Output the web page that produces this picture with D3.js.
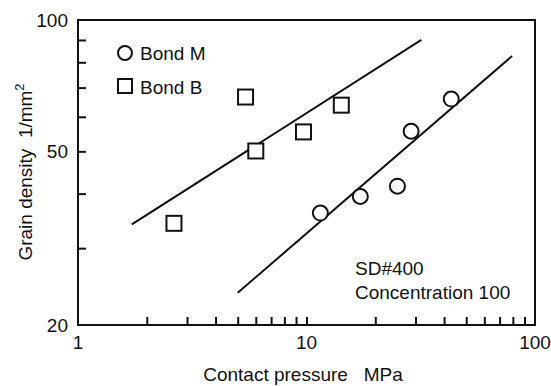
<!DOCTYPE html>
<html>
<head>
<meta charset="utf-8">
<script src="https://cdn.jsdelivr.net/npm/d3@7"></script>
<style>
  body { margin: 0; background: #fff; }
  text { font-family: "Liberation Sans", Arial, sans-serif; fill: #111; }
</style>
</head>
<body>
<script>
var w = 551;
var h = 386;

// data
var bondMPressure = [11.5, 17.2, 25.0, 28.7, 43.0];
var bondMDensity  = [36.1, 39.4, 41.6, 55.6, 65.9];
var bondBPressure = [2.63, 5.41, 6.0, 9.7, 14.2];
var bondBDensity  = [34.2, 66.6, 50.1, 55.4, 63.8];
// fitted lines (end points)
var lineBX = [1.72, 31.8];
var lineBY = [34.0, 90.0];
var lineMX = [5.0, 79.4];
var lineMY = [23.7, 82.7];

var xTickLabels = [1, 10, 100];
var yTickLabels = [20, 50, 100];
var xMinor = [2,3,4,5,6,7,8,9,20,30,40,50,60,70,80,90];
var yMinor = [30,40,60,70,80,90];

var svg = d3.select("body").append("svg")
            .attr("width", w)
            .attr("height", h);

var x = d3.scaleLog().domain([1, 100]).range([78, 535]);
var y = d3.scaleLog().domain([20, 100]).range([325, 20]);

// frame
svg.append("rect")
   .attr("x", x(1)).attr("y", y(100))
   .attr("width", x(100) - x(1)).attr("height", y(20) - y(100))
   .attr("fill", "none").attr("stroke", "#111").attr("stroke-width", 2);

// bottom axis, ticks pointing inward
var xAxis = svg.append("g")
   .attr("transform", "translate(0," + y(20) + ")")
   .call(d3.axisBottom(x).tickValues(xMinor.concat([10])).tickSize(-8).tickFormat(""));
xAxis.select(".domain").remove();
xAxis.selectAll("line").attr("stroke", "#111").attr("stroke-width", 2);

svg.selectAll(".xlab")
   .data(xTickLabels)
   .enter()
   .append("text")
   .attr("class", "xlab")
   .attr("x", function(d){ return x(d); })
   .attr("y", y(20) + 24)
   .attr("text-anchor", "middle")
   .attr("font-size", "19px")
   .text(function(d){ return d; });

// left axis
var yAxis = svg.append("g")
   .attr("transform", "translate(" + x(1) + ",0)")
   .call(d3.axisLeft(y).tickValues(yMinor.concat([50])).tickSize(-8).tickFormat(""));
yAxis.select(".domain").remove();
yAxis.selectAll("line").attr("stroke", "#111").attr("stroke-width", 2);

svg.selectAll(".ylab")
   .data(yTickLabels)
   .enter()
   .append("text")
   .attr("class", "ylab")
   .attr("x", x(1) - 10)
   .attr("y", function(d){ return y(d) + 7; })
   .attr("text-anchor", "end")
   .attr("font-size", "19px")
   .text(function(d){ return d; });

// axis titles
svg.append("text")
   .attr("x", 303).attr("y", 381)
   .attr("text-anchor", "middle")
   .attr("font-size", "19px")
   .style("white-space", "pre")
   .text("Contact pressure   MPa");

var yt = svg.append("text")
   .attr("transform", "translate(32,172) rotate(-90)")
   .attr("text-anchor", "middle")
   .attr("font-size", "19px")
   .style("white-space", "pre");
yt.append("tspan").text("Grain density  1/mm");
yt.append("tspan").attr("font-size", "13px").attr("dy", -8).text("2");

// fit lines
var line = d3.line()
   .x(function(d){ return x(d[0]); })
   .y(function(d){ return y(d[1]); });

svg.append("path")
   .datum(d3.zip(lineBX, lineBY))
   .attr("d", line)
   .attr("fill", "none").attr("stroke", "#111").attr("stroke-width", 2);
svg.append("path")
   .datum(d3.zip(lineMX, lineMY))
   .attr("d", line)
   .attr("fill", "none").attr("stroke", "#111").attr("stroke-width", 2);

// markers
svg.selectAll(".ptB")
   .data(d3.zip(bondBPressure, bondBDensity))
   .enter()
   .append("rect")
   .attr("class", "ptB")
   .attr("x", function(d){ return x(d[0]) - 7.5; })
   .attr("y", function(d){ return y(d[1]) - 7.5; })
   .attr("width", 15).attr("height", 15)
   .attr("fill", "#fff").attr("stroke", "#111").attr("stroke-width", 2);

svg.selectAll(".ptM")
   .data(d3.zip(bondMPressure, bondMDensity))
   .enter()
   .append("circle")
   .attr("class", "ptM")
   .attr("cx", function(d){ return x(d[0]); })
   .attr("cy", function(d){ return y(d[1]); })
   .attr("r", 7.5)
   .attr("fill", "#fff").attr("stroke", "#111").attr("stroke-width", 2);

// legend
svg.append("circle")
   .attr("cx", 125).attr("cy", 53).attr("r", 7)
   .attr("fill", "none").attr("stroke", "#111").attr("stroke-width", 2);
svg.append("text")
   .attr("x", 140).attr("y", 60)
   .attr("font-size", "19px")
   .text("Bond M");
svg.append("rect")
   .attr("x", 118).attr("y", 79).attr("width", 14).attr("height", 14)
   .attr("fill", "none").attr("stroke", "#111").attr("stroke-width", 2);
svg.append("text")
   .attr("x", 140).attr("y", 94)
   .attr("font-size", "19px")
   .text("Bond B");

// annotation
svg.append("text")
   .attr("x", 355).attr("y", 275)
   .attr("font-size", "19px")
   .text("SD#400");
svg.append("text")
   .attr("x", 355).attr("y", 299)
   .attr("font-size", "19px")
   .text("Concentration 100");
</script>
</body>
</html>
